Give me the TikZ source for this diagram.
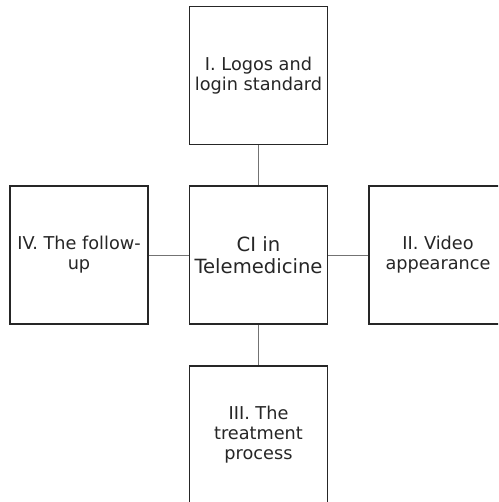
\documentclass[tikz,border=0pt]{standalone}
\usepackage{fontspec}
\setmainfont{DejaVu Sans}
\begin{document}
\begin{tikzpicture}[x=1pt,y=-1pt,
  box/.style={draw=black!85,line width=1.7pt,fill=white,minimum width=138pt,minimum height=138pt,
    inner sep=0pt,align=center,text=black!85,font=\fontsize{17.7}{20}\selectfont},
  link/.style={draw=black!55,line width=0.9pt}]
\useasboundingbox (0,0) rectangle (498,502);
\begin{scope}
\clip (0,0) rectangle (498,502);
\node[box,font=\fontsize{19.6}{22}\selectfont] (c) at (258.5,255) {CI in\\Telemedicine};
\node[box] (t) at (258.5,75.5) {I. Logos and\\login standard};
\node[box] (l) at (79,255) {IV. The follow-\\up};
\node[box] (r) at (438,255) {II. Video\\appearance};
\node[box] (b) at (258.5,435) {III. The\\treatment\\process};
\draw[link] (t) -- (c);
\draw[link] (l) -- (c);
\draw[link] (c) -- (r);
\draw[link] (c) -- (b);
\end{scope}
\end{tikzpicture}
\end{document}
